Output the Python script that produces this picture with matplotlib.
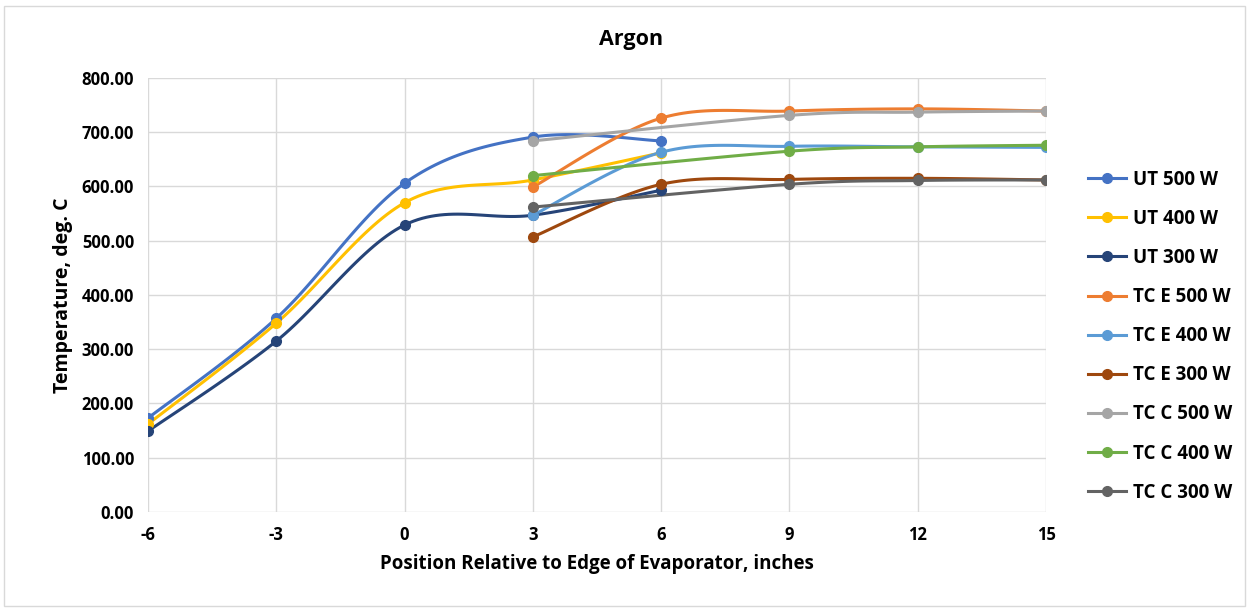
import matplotlib.pyplot as plt
import numpy as np

plt.rcParams['font.family'] = ['Open Sans', 'DejaVu Sans']
plt.rcParams['axes.unicode_minus'] = False

# positions (inches) and measured temperatures (deg C); None = no reading
positions = [-6, -3, 0, 3, 6, 9, 12, 15]

ut_500 = [173, 357, 606, 691, 684, None, None, None]
ut_400 = [162, 348, 570, 612, 662, None, None, None]
ut_300 = [149, 315, 529, 547, 593, None, None, None]
tce_500 = [None, None, None, 599, 726, 739, 743, 739]
tce_400 = [None, None, None, 547, 663, 674, 673, 672]
tce_300 = [None, None, None, 507, 604, 613, 615, 612]
tcc_500 = [None, None, None, 684, None, 731, 737, 739]
tcc_400 = [None, None, None, 620, None, 665, 673, 676]
tcc_300 = [None, None, None, 562, None, 604, 611, 612]

series = [
    ("UT 500 W", ut_500, "#4472C4"),
    ("UT 400 W", ut_400, "#FFC000"),
    ("UT 300 W", ut_300, "#264478"),
    ("TC E 500 W", tce_500, "#ED7D31"),
    ("TC E 400 W", tce_400, "#5B9BD5"),
    ("TC E 300 W", tce_300, "#9E480E"),
    ("TC C 500 W", tcc_500, "#A5A5A5"),
    ("TC C 400 W", tcc_400, "#70AD47"),
    ("TC C 300 W", tcc_300, "#636363"),
]


def smooth(xs, ys, n=30):
    # Excel-like smoothed line: Catmull-Rom style bezier through the points
    pts = np.column_stack([xs, ys]).astype(float)
    if len(pts) < 3:
        return pts[:, 0], pts[:, 1]
    out = []
    for i in range(len(pts) - 1):
        p0 = pts[max(i - 1, 0)]
        p1 = pts[i]
        p2 = pts[i + 1]
        p3 = pts[min(i + 2, len(pts) - 1)]
        c1 = p1 + (p2 - p0) / 6
        c2 = p2 - (p3 - p1) / 6
        t = np.linspace(0, 1, n)[:, None]
        seg = ((1 - t) ** 3 * p1 + 3 * (1 - t) ** 2 * t * c1
               + 3 * (1 - t) * t ** 2 * c2 + t ** 3 * p2)
        out.append(seg if i == 0 else seg[1:])
    out = np.vstack(out)
    return out[:, 0], out[:, 1]


fig = plt.figure(figsize=(12.49, 6.09), dpi=100)
ax = fig.add_axes([0.1185, 0.1593, 0.719, 0.7127])

for label, vals, color in series:
    xs = [x for x, v in zip(positions, vals) if v is not None]
    ys = [v for v in vals if v is not None]
    sx, sy = smooth(xs, ys)
    ax.plot(sx, sy, color=color, lw=2.2, zorder=3)
    ax.plot(xs, ys, 'o', color=color, ms=7, zorder=4)
    ax.plot([], [], '-o', color=color, lw=2.2, ms=7, label=label)

ax.set_xlim(-6, 15)
ax.set_ylim(0, 800)
ax.set_xticks(positions)
ax.set_yticks(np.arange(0, 801, 100))
ax.set_yticklabels([f"{v:.2f}" for v in np.arange(0, 801, 100)])
ax.tick_params(length=0, labelsize=12, pad=10)
for lab in ax.get_xticklabels() + ax.get_yticklabels():
    lab.set_fontweight('bold')
ax.grid(True, color='#D9D9D9', lw=1)
ax.set_axisbelow(True)
for s in ax.spines.values():
    s.set_visible(False)

fig.text(0.505, 0.935, "Argon", fontsize=15.5, fontweight='bold', ha='center', va='center')
ax.set_xlabel("Position Relative to Edge of Evaporator, inches",
              fontsize=13.5, fontweight='bold', labelpad=7)
ax.set_ylabel("Temperature, deg. C", fontsize=14, fontweight='bold', labelpad=6)

leg = ax.legend(loc='center left', bbox_to_anchor=(1.028, 0.405), frameon=False,
                prop={'size': 13.5, 'weight': 'bold'}, labelspacing=1.02,
                handlelength=2.0, handletextpad=0.4)

fig.patches.append(plt.Rectangle((0.003, 0.005), 0.994, 0.985, transform=fig.transFigure,
                                 fill=False, edgecolor='#D9D9D9', lw=1))

fig.savefig("out.png", dpi=100)
